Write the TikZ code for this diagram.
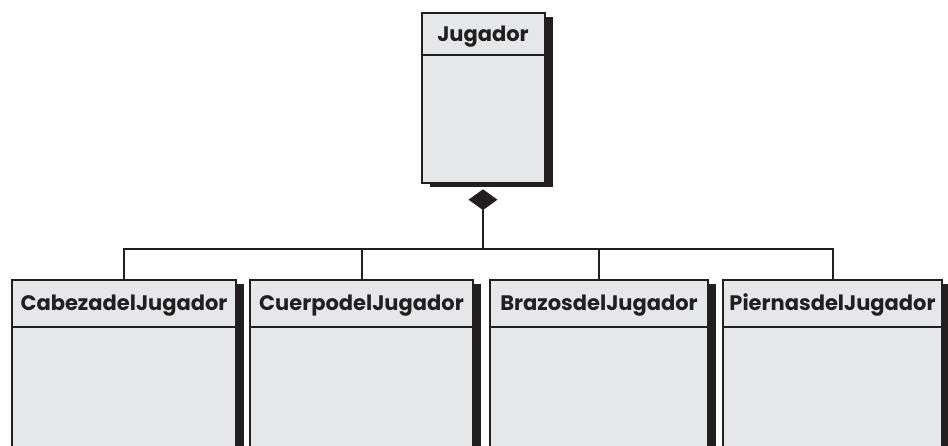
\documentclass[tikz,border=0pt]{standalone}
\usepackage{fontspec}
\setmainfont{Poppins}
\usetikzlibrary{positioning,shapes.geometric,shadows}
\definecolor{tinta}{HTML}{231F20}
\definecolor{fondo}{HTML}{E6E7E9}

\begin{document}
\begin{tikzpicture}[x=1pt,y=-1pt,
	clase/.style={draw=tinta,fill=fondo,line width=2pt,anchor=north,drop shadow={shadow xshift=8pt,shadow yshift=-4pt,fill=tinta,opacity=1}},
	titulo/.style={draw=tinta,fill=fondo,line width=2pt,anchor=north,text=tinta,font=\bfseries\fontsize{21}{25}\selectfont,text height=15pt,text depth=0pt,inner sep=0pt},
	rombo/.style={diamond,fill=tinta,minimum width=29,minimum height=21,inner sep=0pt},
	linea/.style={draw=tinta,line width=2pt}]

				\useasboundingbox (0,0) rectangle (948,446);
				\clip (0,0) rectangle (948,446);

				\node[clase,minimum width=123,minimum height=170] (jugador) at (483,12) {};
				\node[titulo,minimum width=123,minimum height=42] (jugador-tit) at (jugador.north) {Jugador};
				\node[rombo,below=5pt of jugador] (diamante) {};

				\foreach \n/\x/\w/\t in {cabeza/124/224/CabezadelJugador,cuerpo/361.5/223/CuerpodelJugador,brazos/599/218/BrazosdelJugador,piernas/832.5/219/PiernasdelJugador} {
					\node[clase,minimum width=\w,minimum height=200] (\n) at (\x,279) {};
					\node[titulo,minimum width=\w,minimum height=47] (\n-tit) at (\n.north) {\t};
				}

				\foreach \n in {cabeza,cuerpo,brazos,piernas} \draw[linea] (diamante.south) -- ++(0,39) -| (\n.north);

\end{tikzpicture}
\end{document}
